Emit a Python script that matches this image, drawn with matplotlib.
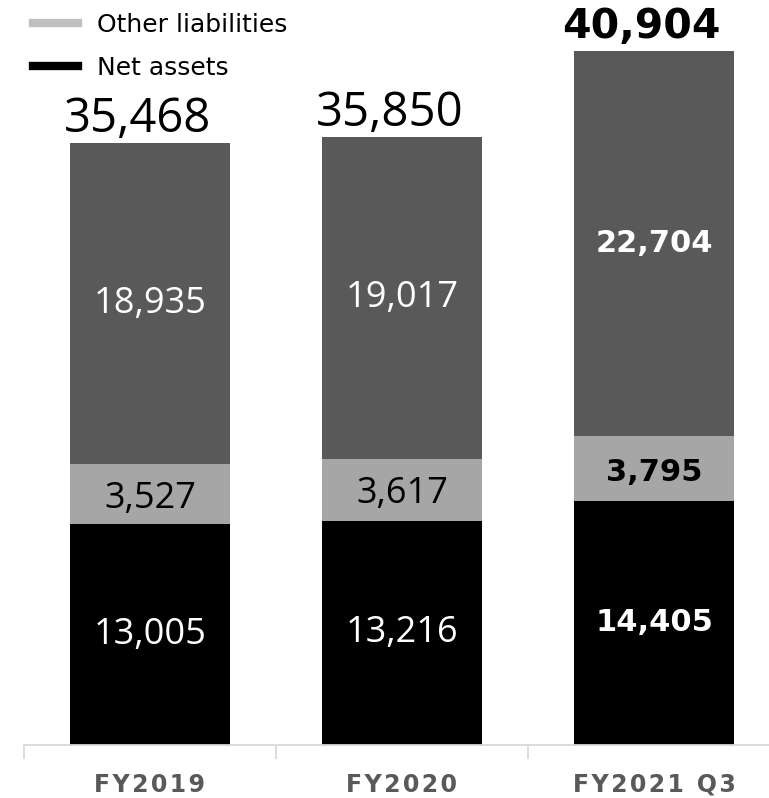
import numpy as np
import matplotlib
matplotlib.use("Agg")
import matplotlib.pyplot as plt
from matplotlib.lines import Line2D

# Balance sheet values (million yen)
categories = ["FY2019", "FY2020", "FY2021 Q3"]
net_assets = [13005, 13216, 14405]
other_liabilities = [3527, 3617, 3795]
top_segment = [18935, 19017, 22704]
totals = [35468, 35850, 40904]
bold = [False, False, True]

c_dark = "#595959"
c_light = "#a6a6a6"
c_black = "#000000"

fig = plt.figure(figsize=(7.69, 7.98), dpi=100)
ax = fig.add_axes([24 / 769, 53 / 798, 756 / 769, 745 / 798])

x = np.arange(len(categories))
w = 0.635
bottom2 = np.array(net_assets) + np.array(other_liabilities)
ax.bar(x, net_assets, w, color=c_black)
ax.bar(x, other_liabilities, w, bottom=net_assets, color=c_light)
ax.bar(x, top_segment, w, bottom=bottom2, color=c_dark)

for i in range(len(x)):
    if bold[i]:
        kw = dict(fontweight="bold", family="DejaVu Sans")
        seg, tot = 22, 29.5
    else:
        kw = dict(fontweight="normal", family="Open Sans")
        seg, tot = 26, 34
    ax.text(x[i], net_assets[i] / 2, f"{net_assets[i]:,}", ha="center", va="center",
            color="white", fontsize=seg, **kw)
    ax.annotate(f"{other_liabilities[i]:,}", (x[i], net_assets[i] + other_liabilities[i] / 2),
                xytext=(0, -3), textcoords="offset points", ha="center", va="center",
                color="black", fontsize=seg, **kw)
    ax.text(x[i], bottom2[i] + top_segment[i] / 2, f"{top_segment[i]:,}", ha="center",
            va="center", color="white", fontsize=seg, **kw)
    ax.annotate(f"{totals[i]:,}", (x[i], totals[i]), xytext=(-9, 17),
                textcoords="offset points", ha="center", va="center", color="black",
                fontsize=tot, **kw)

ax.set_xlim(-0.5, 2.5)
ax.set_ylim(0, 43900)
ax.set_yticks([])
for s in ["top", "right", "left"]:
    ax.spines[s].set_visible(False)
ax.spines["bottom"].set_color("#d9d9d9")
ax.spines["bottom"].set_linewidth(1.3)

# spaced-out category labels
spaced = ["\u200a".join(c) for c in categories]
ax.set_xticks(x)
ax.set_xticklabels(spaced, fontsize=17, fontweight="bold", color=c_dark)
ax.tick_params(axis="x", length=0, pad=20)
ax.set_xticks([-0.5, 0.5, 1.5, 2.5], minor=True)
ax.tick_params(axis="x", which="minor", length=10, color="#d9d9d9", width=1.3)

handles = [Line2D([0], [0], color="#bfbfbf", lw=6),
           Line2D([0], [0], color=c_black, lw=6)]
fig.legend(handles, ["Other liabilities", "Net assets"], loc="upper left",
           bbox_to_anchor=(0.014, 1.012), frameon=False, fontsize=18,
           handlelength=1.8, handletextpad=0.75, labelspacing=0.75)

fig.savefig("out.png", dpi=100)
